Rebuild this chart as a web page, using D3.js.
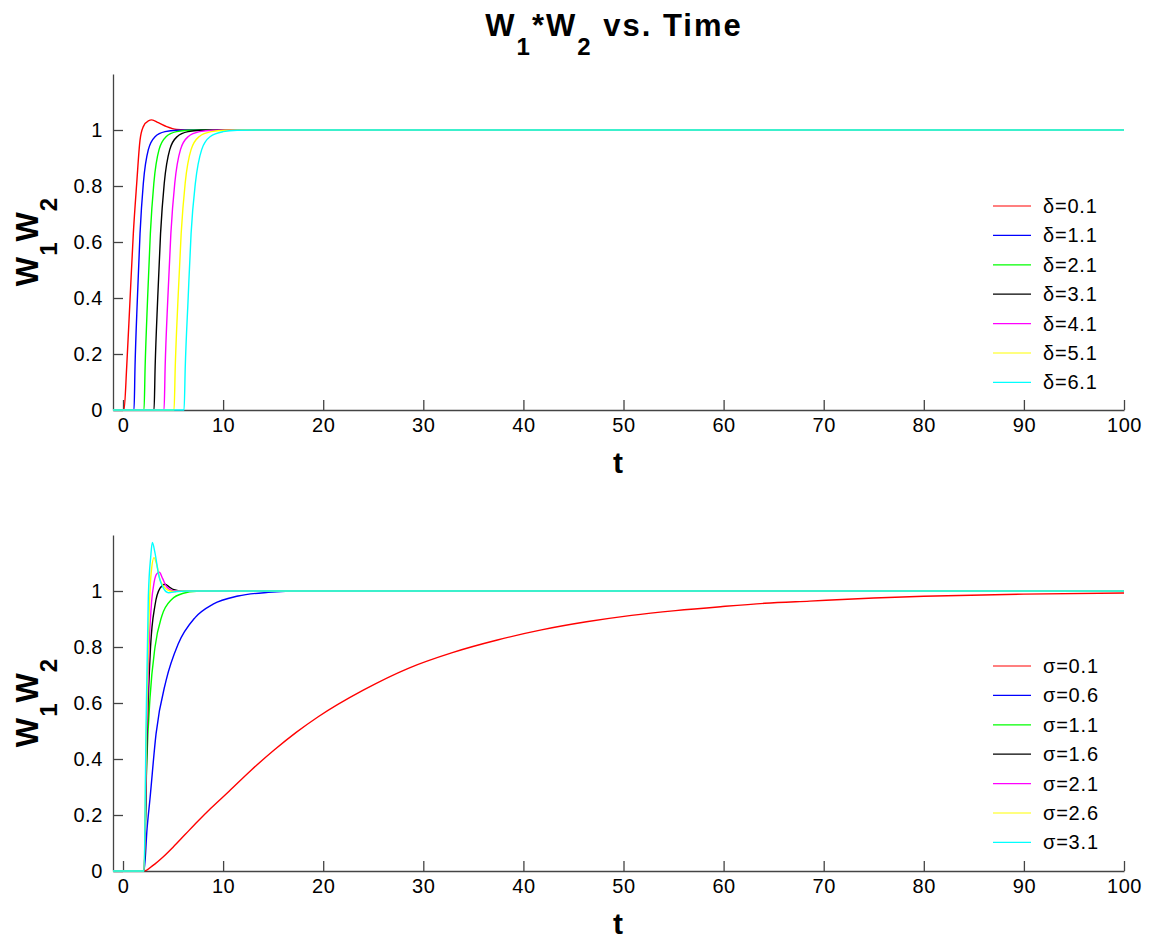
<!DOCTYPE html>
<html>
<head>
<meta charset="utf-8">
<style>
	body { margin: 0; background: white; }
	svg { font-family: "Liberation Sans", Arial, sans-serif; }
	.axis path, .axis line { stroke: #444; stroke-width: 1.3; }
	.axis text { font-size: 20px; fill: black; letter-spacing: 0.6px; }
	.series { fill: none; stroke-width: 1.4; }
</style>
</head>
<body>
<svg width="1155" height="940"></svg>

<script src="https://cdn.jsdelivr.net/npm/d3@7"></script>
<script>
// colours shared by both panels
const colors = ["#ff0000", "#0000ff", "#00ff00", "#000000", "#ff00ff", "#ffff00", "#00ffff"];

// top panel: delay delta
const deltaLabels = ["δ=0.1", "δ=1.1", "δ=2.1", "δ=3.1", "δ=4.1", "δ=5.1", "δ=6.1"];
const deltaTimes = [
	[-1, 0.1, 0.37, 0.7, 1.03, 1.37, 1.7, 2.03, 2.53, 2.87, 3.53, 4.36, 5.36, 7, 100],
	[-1, 1.1, 1.2, 1.43, 1.7, 2.03, 2.53, 3.2, 4.2, 5.4, 7, 100],
	[-1, 2.1, 2.21, 2.45, 2.73, 3.08, 3.6, 4.3, 5.35, 6.6, 8.3, 100],
	[-1, 3.1, 3.21, 3.46, 3.75, 4.12, 4.67, 5.4, 6.5, 7.8, 9.6, 100],
	[-1, 4.1, 4.21, 4.47, 4.78, 5.17, 5.74, 6.5, 7.65, 9.0, 10.9, 100],
	[-1, 5.1, 5.22, 5.49, 5.81, 6.21, 6.8, 7.6, 8.8, 10.2, 12.2, 100],
	[-1, 6.1, 6.22, 6.5, 6.8, 7.23, 7.86, 8.69, 10.0, 11.4, 13.5, 100]
];
const deltaValues = [
	[0, 0, 0.155, 0.393, 0.63, 0.81, 0.964, 1.012, 1.033, 1.036, 1.026, 1.012, 1.002, 1, 1],
	[0, 0, 0.155, 0.393, 0.63, 0.81, 0.93, 0.976, 0.994, 0.999, 1, 1],
	[0, 0, 0.155, 0.393, 0.63, 0.81, 0.93, 0.976, 0.994, 0.999, 1, 1],
	[0, 0, 0.155, 0.393, 0.63, 0.81, 0.93, 0.976, 0.994, 0.999, 1, 1],
	[0, 0, 0.155, 0.393, 0.63, 0.81, 0.93, 0.976, 0.994, 0.999, 1, 1],
	[0, 0, 0.155, 0.393, 0.63, 0.81, 0.93, 0.976, 0.994, 0.999, 1, 1],
	[0, 0, 0.155, 0.393, 0.63, 0.81, 0.93, 0.976, 0.994, 0.999, 1, 1]
];

// bottom panel: sigma
const sigmaLabels = ["σ=0.1", "σ=0.6", "σ=1.1", "σ=1.6", "σ=2.1", "σ=2.6", "σ=3.1"];
const sigmaTimes = [
	[-1, 2.1, 3, 4, 5, 6.2, 7.4, 8.8, 10.6, 12.8, 15.1, 17.3, 19.5, 24, 28.5, 32.9, 37.4, 41.8, 46.3, 50.8, 55.2, 59.7, 64.1, 68.6, 75, 80, 90, 100],
	[-1, 2.1, 2.4, 2.7, 3.3, 4.3, 5.5, 7.2, 9.0, 11.5, 14.5, 18, 100],
	[-1, 2.1, 2.37, 2.7, 3.2, 3.87, 4.86, 6.03, 7.36, 9, 100],
	[-1, 2.1, 2.42, 2.75, 3.2, 3.7, 4.2, 4.6, 5.0, 6.0, 100],
	[-1, 2.1, 2.37, 2.6, 2.85, 3.1, 3.35, 3.63, 3.95, 4.36, 5.0, 6.3, 100],
	[-1, 2.1, 2.33, 2.55, 2.8, 3.1, 3.4, 3.7, 4.36, 5.0, 6.2, 100],
	[-1, 2.1, 2.3, 2.53, 2.77, 2.93, 3.2, 3.53, 4.03, 4.53, 5.36, 6.4, 100]
];
const sigmaValues = [
	[0, 0, 0.02, 0.05, 0.085, 0.13, 0.175, 0.225, 0.285, 0.36, 0.432, 0.495, 0.551, 0.646, 0.724, 0.78, 0.825, 0.861, 0.89, 0.913, 0.93, 0.944, 0.956, 0.964, 0.975, 0.981, 0.989, 0.993],
	[0, 0, 0.15, 0.26, 0.49, 0.68, 0.81, 0.905, 0.953, 0.982, 0.995, 1, 1],
	[0, 0, 0.385, 0.62, 0.8, 0.91, 0.97, 0.992, 0.999, 1, 1],
	[0, 0, 0.5, 0.8, 0.95, 1.01, 1.024, 1.015, 1.006, 1, 1],
	[0, 0, 0.5, 0.8, 0.96, 1.03, 1.06, 1.067, 1.045, 1.015, 1.001, 1, 1],
	[0, 0, 0.5, 0.85, 1.06, 1.119, 1.09, 1.04, 1.006, 0.998, 1, 1],
	[0, 0, 0.504, 0.98, 1.123, 1.173, 1.135, 1.063, 1.01, 0.994, 0.998, 1, 1]
];

const xTicks = [0, 10, 20, 30, 40, 50, 60, 70, 80, 90, 100];
const yTicks = [0, 0.2, 0.4, 0.6, 0.8, 1];

const svg = d3.select("svg");

var x = d3.scaleLinear().domain([-1, 100]).range([113, 1124]);

function drawPanel(top, bottom, times, values, labels, legendTop) {
	var y = d3.scaleLinear().domain([0, 1.2]).range([bottom, top]);

	svg.append("g")
		.attr("class", "axis")
		.attr("transform", "translate(0," + bottom + ")")
		.call(d3.axisBottom(x).tickValues(xTicks).tickSize(-10).tickSizeOuter(0).tickPadding(8));

	svg.append("g")
		.attr("class", "axis")
		.attr("transform", "translate(113,0)")
		.call(d3.axisLeft(y).tickValues(yTicks).tickSize(-10).tickSizeOuter(0).tickPadding(10)
			.tickFormat(d3.format("")));

	var line = d3.line()
		.x(d => x(d[0]))
		.y(d => y(d[1]))
		.curve(d3.curveMonotoneX);

	times.forEach(function(ts, i) {
		var pts = ts.map((t, j) => [t, values[i][j]]);
		svg.append("path")
			.attr("class", "series")
			.attr("stroke", colors[i])
			.attr("d", line(pts));
	});

	var legend = svg.append("g");
	labels.forEach(function(lab, i) {
		var ly = legendTop + i * 29.4;
		legend.append("line")
			.attr("x1", 993).attr("x2", 1031)
			.attr("y1", ly).attr("y2", ly)
			.attr("stroke", colors[i]).attr("stroke-width", 1.2);
		legend.append("text")
			.attr("x", 1043).attr("y", ly)
			.attr("dy", "0.35em")
			.style("font-size", "20px")
			.style("letter-spacing", "0.8px")
			.text(lab);
	});

	// x label
	svg.append("text")
		.attr("x", 618).attr("y", bottom + 63)
		.attr("text-anchor", "middle")
		.style("font-size", "30px").style("font-weight", "bold")
		.text("t");

	// y label with subscripts
	var yl = svg.append("text")
		.attr("transform", "translate(38," + ((top + bottom) / 2) + ") rotate(-90)")
		.attr("text-anchor", "middle")
		.style("font-size", "31px").style("font-weight", "bold");
	yl.append("tspan").text("W");
	yl.append("tspan").attr("dy", 19).attr("dx", 1).style("font-size", "24px").text("1");
	yl.append("tspan").attr("dy", -19).attr("dx", 1).text("W");
	yl.append("tspan").attr("dy", 19).attr("dx", 1).style("font-size", "24px").text("2");
}

drawPanel(74, 410, deltaTimes, deltaValues, deltaLabels, 206);
drawPanel(535, 871, sigmaTimes, sigmaValues, sigmaLabels, 666);

// title
var title = svg.append("text")
	.attr("x", 614).attr("y", 36)
	.attr("text-anchor", "middle")
	.style("font-size", "31px").style("font-weight", "bold")
	.style("letter-spacing", "2px");
title.append("tspan").text("W");
title.append("tspan").attr("dy", 19).style("font-size", "24px").text("1");
title.append("tspan").attr("dy", -19).text("*W");
title.append("tspan").attr("dy", 19).style("font-size", "24px").text("2");
title.append("tspan").attr("dy", -19).text(" vs. Time");
</script>
</body>
</html>
